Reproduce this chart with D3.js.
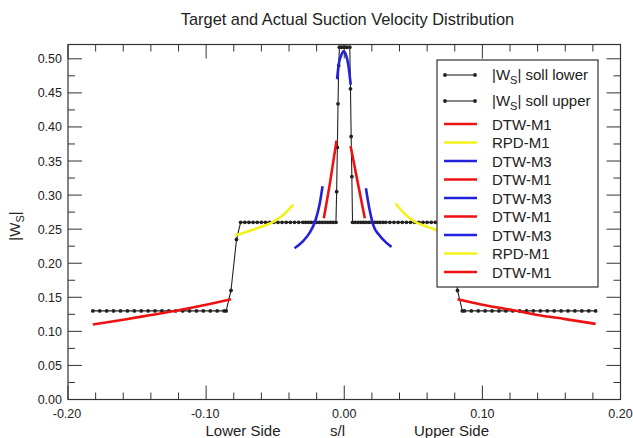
<!DOCTYPE html>
<html><head><meta charset="utf-8">
<script src="https://cdn.jsdelivr.net/npm/d3@7"></script>
<style>
html,body{margin:0;padding:0;background:#fff;}
text{font-family:"Liberation Sans",Arial,Helvetica,sans-serif;fill:#222;}
</style></head>
<body><svg id="c" width="633" height="438"></svg>
<script>
// ---- data ----
const title = "Target and Actual Suction Velocity Distribution";
const xTickValues = [-0.20,-0.10,0.00,0.10,0.20];
const yTickValues = [0.00,0.05,0.10,0.15,0.20,0.25,0.30,0.35,0.40,0.45,0.50];

const sollLowerS = [-0.182,-0.177,-0.172,-0.167,-0.162,-0.157,-0.152,-0.147,-0.142,-0.137,-0.132,-0.127,-0.122,-0.117,-0.112,-0.107,-0.102,-0.097,-0.092,-0.087,-0.0855,
  -0.082,-0.078,-0.075,-0.072,-0.069,-0.066,-0.063,-0.060,-0.057,-0.054,-0.051,-0.048,-0.045,-0.042,-0.039,-0.036,-0.033,-0.030,-0.028,-0.026,-0.024,-0.022,-0.020,-0.018,-0.016,-0.014,-0.012,-0.010,-0.008,-0.006,
  -0.0055,-0.005,-0.0045,-0.004,-0.0035,-0.002,0.000];
const sollLowerV = [0.13,0.13,0.13,0.13,0.13,0.13,0.13,0.13,0.13,0.13,0.13,0.13,0.13,0.13,0.13,0.13,0.13,0.13,0.13,0.13,0.13,
  0.16,0.235,0.26,0.26,0.26,0.26,0.26,0.26,0.26,0.26,0.26,0.26,0.26,0.26,0.26,0.26,0.26,0.26,0.26,0.26,0.26,0.26,0.26,0.26,0.26,0.26,0.26,0.26,0.26,0.26,
  0.305,0.37,0.434,0.49,0.517,0.517,0.517];

const sollUpperS = [0.000,0.002,0.004,0.0045,0.005,0.0055,0.006,0.008,0.010,0.012,0.014,0.016,0.018,0.020,0.022,0.024,0.026,0.028,0.030,0.033,0.036,0.039,0.042,0.045,0.048,0.051,0.054,0.057,0.060,0.063,0.066,0.069,0.072,0.075,
  0.078,0.082,0.0855,0.087,0.092,0.097,0.102,0.107,0.112,0.117,0.122,0.127,0.132,0.137,0.142,0.147,0.152,0.157,0.162,0.167,0.172,0.177,0.182];
const sollUpperV = [0.517,0.517,0.517,0.456,0.386,0.327,0.26,0.26,0.26,0.26,0.26,0.26,0.26,0.26,0.26,0.26,0.26,0.26,0.26,0.26,0.26,0.26,0.26,0.26,0.26,0.26,0.26,0.26,0.26,0.26,0.26,0.26,0.26,0.26,
  0.235,0.16,0.13,0.13,0.13,0.13,0.13,0.13,0.13,0.13,0.13,0.13,0.13,0.13,0.13,0.13,0.13,0.13,0.13,0.13,0.13,0.13,0.13];

// colored result curves, left to right (legend order)
const dtwM1aS = [-0.182,-0.160,-0.140,-0.120,-0.100,-0.082];
const dtwM1aV = [0.110,0.117,0.124,0.131,0.139,0.147];
const rpdM1aS = [-0.079,-0.072,-0.065,-0.058,-0.051,-0.044,-0.037];
const rpdM1aV = [0.241,0.245,0.250,0.255,0.261,0.271,0.286];
const dtwM3aS = [-0.036,-0.030,-0.025,-0.021,-0.018,-0.0157];
const dtwM3aV = [0.222,0.232,0.245,0.262,0.285,0.313];
const dtwM1bS = [-0.0148,-0.010,-0.0056];
const dtwM1bV = [0.266,0.322,0.380];
const dtwM3bS = [-0.0052,-0.004,-0.002,-0.0005,0.001,0.003,0.0047];
const dtwM3bV = [0.470,0.492,0.506,0.511,0.507,0.490,0.462];
const dtwM1cS = [0.0046,0.010,0.0149];
const dtwM1cV = [0.372,0.316,0.266];
const dtwM3cS = [0.0157,0.018,0.021,0.025,0.030,0.0342];
const dtwM3cV = [0.310,0.282,0.256,0.242,0.231,0.224];
const rpdM1bS = [0.037,0.044,0.051,0.058,0.065,0.072,0.079];
const rpdM1bV = [0.288,0.272,0.261,0.255,0.250,0.245,0.241];
const dtwM1dS = [0.082,0.100,0.120,0.140,0.160,0.182];
const dtwM1dV = [0.147,0.139,0.132,0.124,0.118,0.111];

const legendLabels = ["soll lower","soll upper","DTW-M1","RPD-M1","DTW-M3","DTW-M1","DTW-M3","DTW-M1","DTW-M3","RPD-M1","DTW-M1"];

// ---- drawing ----
const RED="#ee1111", YEL="#f2f21a", BLU="#2222dd";
const zip=(s,v)=>s.map((d,i)=>({s:d,v:v[i]}));
const series=[
 {d:zip(dtwM1aS,dtwM1aV),c:RED},{d:zip(rpdM1aS,rpdM1aV),c:YEL},{d:zip(dtwM3aS,dtwM3aV),c:BLU},
 {d:zip(dtwM1bS,dtwM1bV),c:RED},{d:zip(dtwM3bS,dtwM3bV),c:BLU},{d:zip(dtwM1cS,dtwM1cV),c:RED},
 {d:zip(dtwM3cS,dtwM3cV),c:BLU},{d:zip(rpdM1bS,rpdM1bV),c:YEL},{d:zip(dtwM1dS,dtwM1dV),c:RED}
];
const svg=d3.select("#c");
const L=68,R=620.5,T=44.5,B=399.5;
const x=d3.scaleLinear().domain([-0.2,0.2]).range([L,R]);
const y=d3.scaleLinear().domain([0,0.521]).range([B,T]);

svg.append("defs").append("clipPath").attr("id","clip").append("rect")
 .attr("x",L).attr("y",T).attr("width",R-L).attr("height",B-T);

const plot=svg.append("g").attr("clip-path","url(#clip)");
const line=d3.line().x(d=>x(d.s)).y(d=>y(d.v));
const smooth=d3.line().x(d=>x(d.s)).y(d=>y(d.v)).curve(d3.curveMonotoneX);

[zip(sollLowerS,sollLowerV),zip(sollUpperS,sollUpperV)].forEach(d=>{
  plot.append("path").attr("d",line(d)).attr("fill","none").attr("stroke","#222").attr("stroke-width",1.1);
  plot.selectAll(null).data(d).enter().append("circle").attr("cx",p=>x(p.s)).attr("cy",p=>y(p.v)).attr("r",1.9).attr("fill","#222");
});
series.forEach(sr=>{
  plot.append("path").attr("d",smooth(sr.d)).attr("fill","none").attr("stroke",sr.c).attr("stroke-width",2.6);
});

// axes with inward ticks
const axG=svg.append("g").attr("stroke","#333").attr("stroke-width",1);
const xMinor=d3.range(-0.2,0.2001,0.02);
xMinor.forEach(v=>{
  const major=Math.abs(Math.round(v*10)-v*10)<1e-6;
  const len=major?14:7;
  axG.append("line").attr("x1",x(v)).attr("x2",x(v)).attr("y1",B).attr("y2",B-len);
  axG.append("line").attr("x1",x(v)).attr("x2",x(v)).attr("y1",T).attr("y2",T+len);
});
const yMinor=d3.range(0,0.5001,0.025);
yMinor.forEach(v=>{
  const major=Math.abs(Math.round(v*20)-v*20)<1e-6;
  const len=major?14:7;
  axG.append("line").attr("y1",y(v)).attr("y2",y(v)).attr("x1",L).attr("x2",L+len);
  axG.append("line").attr("y1",y(v)).attr("y2",y(v)).attr("x1",R).attr("x2",R-len);
});
svg.append("rect").attr("x",L).attr("y",T).attr("width",R-L).attr("height",B-T)
 .attr("fill","none").attr("stroke","#333").attr("stroke-width",1.2);

// tick labels
svg.selectAll(null).data(yTickValues).enter().append("text")
 .attr("x",L-6).attr("y",d=>y(d)+4.5).attr("text-anchor","end").attr("font-size",12.5).text(d=>d.toFixed(2));
svg.selectAll(null).data(xTickValues).enter().append("text")
 .attr("x",d=>x(d)+(d<0?-1:0)).attr("y",418).attr("text-anchor","middle").attr("font-size",12.5).text(d=>d.toFixed(2));

// titles
svg.append("text").attr("x",347.5).attr("y",25).attr("text-anchor","middle").attr("font-size",16.4).text(title);
svg.append("text").attr("x",243).attr("y",436).attr("text-anchor","middle").attr("font-size",15).text("Lower Side");
svg.append("text").attr("x",337.5).attr("y",436).attr("text-anchor","middle").attr("font-size",15).text("s/l");
svg.append("text").attr("x",451.5).attr("y",436).attr("text-anchor","middle").attr("font-size",15).text("Upper Side");
const yl=svg.append("text").attr("transform","translate(20,226) rotate(-90)").attr("text-anchor","middle").attr("font-size",15);
yl.append("tspan").text("|W");
yl.append("tspan").attr("font-size",11).attr("dy",4).text("S");
yl.append("tspan").attr("dy",-4).text("|");

// legend
const lg=svg.append("g");
lg.append("rect").attr("x",437).attr("y",60).attr("width",161).attr("height",227).attr("fill","#fff").attr("stroke","#333").attr("stroke-width",1.2);
const rowY=[75,101,124,142.5,161,179.5,198,216.5,235,253.5,272];
const rowC=[null,null,RED,YEL,BLU,RED,BLU,RED,BLU,YEL,RED];
legendLabels.forEach((lab,i)=>{
  const yy=rowY[i];
  if(i<2){
    lg.append("line").attr("x1",445).attr("x2",475).attr("y1",yy).attr("y2",yy).attr("stroke","#222").attr("stroke-width",1.1);
    [445,475].forEach(cx=>lg.append("circle").attr("cx",cx).attr("cy",yy).attr("r",1.9).attr("fill","#222"));
    const t=lg.append("text").attr("x",492).attr("y",yy+4.5).attr("font-size",15);
    t.append("tspan").text("|W");
    t.append("tspan").attr("font-size",11).attr("dy",4).text("S");
    t.append("tspan").attr("dy",-4).text("| "+lab);
  } else {
    lg.append("line").attr("x1",444).attr("x2",477).attr("y1",yy).attr("y2",yy).attr("stroke",rowC[i]).attr("stroke-width",2.6);
    lg.append("text").attr("x",492).attr("y",yy+5.5).attr("font-size",15).text(lab);
  }
});
</script></body></html>
